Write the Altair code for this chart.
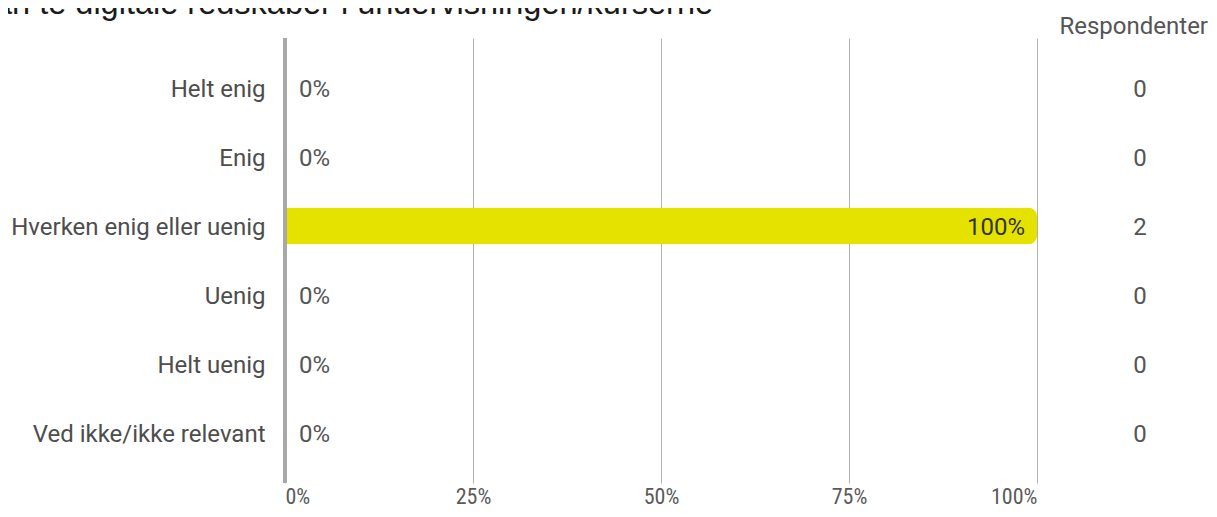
import altair as alt
import pandas as pd

categories = ["Helt enig", "Enig", "Hverken enig eller uenig", "Uenig",
              "Helt uenig", "Ved ikke/ikke relevant"]
shares = [0.0, 0.0, 1.0, 0.0, 0.0, 0.0]
respondents = [0, 0, 2, 0, 0, 0]
x_ticks = [0, 0.25, 0.5, 0.75, 1.0]
title_text = "an te digitale redskaber i undervisningen/kurserne"
count_header = "Respondenter"

df = pd.DataFrame({"cat": categories, "share": shares, "n": respondents})
hdr = pd.DataFrame({"h": [count_header]})
ttl = pd.DataFrame({"t": [title_text]})

FONT = "Roboto"
FS = 24
NARROW = "Noto Sans ExtraCondensed, Noto Sans Condensed, Roboto Condensed, Liberation Sans Narrow, Arial Narrow, DejaVu Sans Condensed, Roboto"

y_enc = alt.Y(
    "cat:N", sort=categories,
    scale=alt.Scale(paddingInner=0.465, paddingOuter=0.455),
    axis=alt.Axis(title=None, domain=False, ticks=False, grid=False,
                  labelFontSize=FS, labelColor="#4d4d4d", labelPadding=20,
                  labelOffset=2, labelFont=FONT, labelLimit=400),
)
x_enc = alt.X(
    "share:Q",
    scale=alt.Scale(domain=[0, 1], nice=False),
    axis=alt.Axis(title=None, values=x_ticks, format=".0%", domain=False,
                  ticks=False, grid=True, gridColor="#b3b3b3", gridWidth=1,
                  labelFlush=True, labelFontSize=22, labelFont=NARROW,
                  labelColor="#5a5a5a", labelPadding=3),
)

base = alt.Chart(df)
bars = base.mark_bar(color="#e6e200", cornerRadiusEnd=9).encode(x=x_enc, y=y_enc)
zero = base.mark_rule(color="#a8a8a8", strokeWidth=3).encode(x=alt.datum(0))
lab0 = base.transform_filter("datum.share == 0").mark_text(
    align="left", baseline="middle", dx=14, dy=2, font=FONT, fontSize=FS, color="#555555"
).encode(x="share:Q", y=alt.Y("cat:N", sort=categories), text=alt.Text("share:Q", format=".0%"))
labv = base.transform_filter("datum.share > 0").mark_text(
    align="right", baseline="middle", dx=-12, dy=2, font=FONT, fontSize=FS, color="#333333"
).encode(x="share:Q", y=alt.Y("cat:N", sort=categories), text=alt.Text("share:Q", format=".0%"))
counts = base.mark_text(
    align="center", baseline="middle", dy=2, font=FONT, fontSize=FS, color="#555555"
).encode(x=alt.value(855), y=alt.Y("cat:N", sort=categories), text="n:Q")
header = alt.Chart(hdr).mark_text(
    align="right", baseline="middle", font=FONT, fontSize=FS, color="#555555"
).encode(x=alt.value(923), y=alt.value(-11), text="h:N")
title = alt.Chart(ttl).mark_text(
    align="left", baseline="alphabetic", font="Liberation Sans", fontSize=32.5, color="#1a1a1a"
).encode(x=alt.value(-291), y=alt.value(-24), text="t:N")

chart = alt.layer(bars, zero, lab0, labv, counts, header, title).properties(
    width=752, height=445,
    autosize=alt.AutoSizeParams(type="none"),
    padding={"left": 277, "top": 30, "right": 172, "bottom": 26},
).configure_view(stroke=None)

chart.save("out.html", embed_options={"renderer": "svg", "actions": False})
